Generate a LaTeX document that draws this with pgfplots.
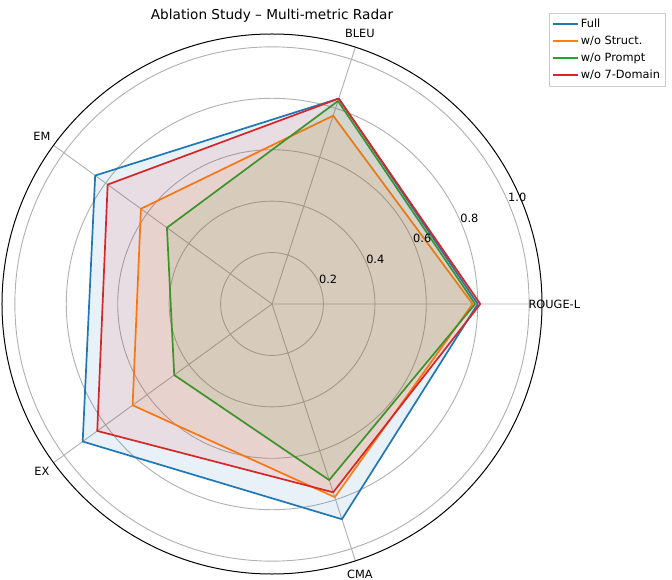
\documentclass[border=0pt]{standalone}
\usepackage{pgfplots}
\pgfplotsset{compat=1.18}
\usepgfplotslibrary{polar}
\usepackage{fontspec}
\setmainfont{DejaVu Sans}

\definecolor{cFull}{HTML}{1F77B4}
\definecolor{cStruct}{HTML}{FF7F0E}
\definecolor{cPrompt}{HTML}{2CA02C}
\definecolor{cDomain}{HTML}{D62728}
\definecolor{gridgray}{HTML}{B0B0B0}
\definecolor{framegray}{HTML}{CCCCCC}

\newcommand{\tickfont}{\fontsize{11.4}{13.7}\selectfont}

\pgfplotsset{
  legend image code/.code={\draw[#1] (0bp,0bp) -- (25bp,0bp);},
}

\begin{document}
\begin{tikzpicture}
\useasboundingbox (-2bp,-6bp) rectangle (670bp,574bp);
\begin{polaraxis}[
  at={(0bp,0bp)}, anchor=south west,
  width=540bp, height=540bp, scale only axis,
  clip=false,
  ymin=0, ymax=1.05,
  xtick={0,72,144,216,288},
  xticklabels={{},{},{},{},{}},
  ytick={0.2,0.4,0.6,0.8,1.0},
  yticklabels={{},{},{},{},{}},
  major tick length=0pt,
  grid=major,
  major grid style={draw=gridgray, line width=0.9bp},
  x axis line style={draw=black, line width=1bp},
  y axis line style={draw=none},
  line join=round,
  legend cell align=left,
  legend style={
    at={(1.013,1.039)}, anchor=north west,
    draw=framegray, fill=white, font=\tickfont,
    row sep=2.9bp, inner xsep=3bp, inner ysep=4bp,
  },
]
\addlegendimage{draw=cFull, line width=1.7bp}
\addlegendentry{Full}
\addlegendimage{draw=cStruct, line width=1.7bp}
\addlegendentry{w/o Struct.}
\addlegendimage{draw=cPrompt, line width=1.7bp}
\addlegendentry{w/o Prompt}
\addlegendimage{draw=cDomain, line width=1.7bp}
\addlegendentry{w/o 7-Domain}

% Full model
\addplot[cFull, line width=1.7bp, forget plot] coordinates {(0,0.80) (72,0.84) (144,0.85) (216,0.91) (288,0.88) (360,0.80)};
\addplot[draw=none, fill=cFull, fill opacity=0.1, forget plot] coordinates {(0,0.80) (72,0.84) (144,0.85) (216,0.91) (288,0.88) (360,0.80)};
% without structure
\addplot[cStruct, line width=1.7bp, forget plot] coordinates {(0,0.78) (72,0.77) (144,0.63) (216,0.67) (288,0.79) (360,0.78)};
\addplot[draw=none, fill=cStruct, fill opacity=0.1, forget plot] coordinates {(0,0.78) (72,0.77) (144,0.63) (216,0.67) (288,0.79) (360,0.78)};
% without prompt
\addplot[cPrompt, line width=1.7bp, forget plot] coordinates {(0,0.79) (72,0.83) (144,0.505) (216,0.47) (288,0.72) (360,0.79)};
\addplot[draw=none, fill=cPrompt, fill opacity=0.1, forget plot] coordinates {(0,0.79) (72,0.83) (144,0.505) (216,0.47) (288,0.72) (360,0.79)};
% without 7-domain
\addplot[cDomain, line width=1.7bp, forget plot] coordinates {(0,0.81) (72,0.84) (144,0.79) (216,0.84) (288,0.77) (360,0.81)};
\addplot[draw=none, fill=cDomain, fill opacity=0.1, forget plot] coordinates {(0,0.81) (72,0.84) (144,0.79) (216,0.84) (288,0.77) (360,0.81)};

% metric names around the rim
\node[font=\tickfont, inner sep=0pt] at (axis cs:0,1.098)   {ROUGE-L};
\node[font=\tickfont, inner sep=0pt] at (axis cs:72,1.106)  {BLEU};
\node[font=\tickfont, inner sep=0pt] at (axis cs:144,1.106) {EM};
\node[font=\tickfont, inner sep=0pt] at (axis cs:216,1.106) {EX};
\node[font=\tickfont, inner sep=0pt] at (axis cs:288,1.106) {CMA};
% radial tick labels
\node[font=\tickfont, inner sep=0pt] at (axis cs:23.5,0.238) {0.2};
\node[font=\tickfont, inner sep=0pt] at (axis cs:23.5,0.438) {0.4};
\node[font=\tickfont, inner sep=0pt] at (axis cs:23.5,0.637) {0.6};
\node[font=\tickfont, inner sep=0pt] at (axis cs:23.5,0.837) {0.8};
\node[font=\tickfont, inner sep=0pt] at (axis cs:23.5,1.040) {1.0};
% title
\node[font=\fontsize{13.7}{16}\selectfont, inner sep=0pt] at (axis cs:90,1.12) {Ablation Study – Multi-metric Radar};
\end{polaraxis}
\end{tikzpicture}
\end{document}
